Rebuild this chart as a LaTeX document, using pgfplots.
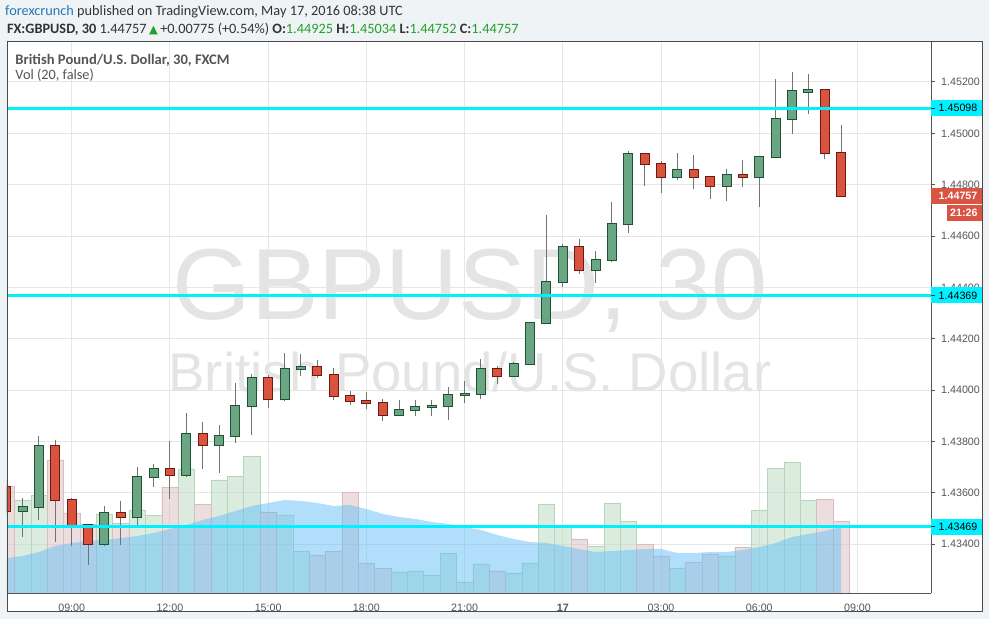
\documentclass[border=0pt]{standalone}
\usepackage{pgfplots}
\pgfplotsset{compat=1.18}
\usepackage{pgfplotstable}
\usepackage{fontspec}
\setmainfont{Liberation Sans}
\newfontfamily\hdr{Carlito}
\newfontfamily\symf{DejaVu Sans}

\definecolor{bgout}{HTML}{F0F3F6}
\definecolor{framec}{HTML}{4A4A4A}
\definecolor{gridc}{HTML}{E6E6E6}
\definecolor{tickc}{HTML}{555555}
\definecolor{upfill}{HTML}{6BA684}
\definecolor{upline}{HTML}{1F5233}
\definecolor{dnfill}{HTML}{D9533F}
\definecolor{dnline}{HTML}{6B1B11}
\definecolor{wick}{HTML}{737373}
\definecolor{vup}{HTML}{B9DBBF}
\definecolor{vupline}{HTML}{B4D7BA}
\definecolor{vdn}{HTML}{DBBFBF}
\definecolor{vdnline}{HTML}{D8BDBD}
\definecolor{maarea}{HTML}{5EBDF8}
\definecolor{lvl}{HTML}{00F0FF}
\definecolor{wm}{HTML}{E4E4E4}
\definecolor{hblue}{HTML}{2278B5}
\definecolor{hgreen}{HTML}{22A12B}
\definecolor{htext}{HTML}{333333}
\definecolor{lastc}{HTML}{DA5443}

% 30-minute candles, i = 0 is 16 May 09:00
\pgfplotstableread{
i o h l c
-3 1.43528 1.43579 1.43427 1.43544
-2 1.43544 1.43822 1.43496 1.43781
2 1.43400 1.43548 1.43394 1.43521
4 1.43505 1.43701 1.43475 1.43661
5 1.43661 1.43713 1.43624 1.43692
7 1.43669 1.43911 1.43662 1.43828
9 1.43785 1.43863 1.43679 1.43820
10 1.43820 1.44029 1.43795 1.43937
11 1.43937 1.44063 1.43827 1.44046
13 1.43964 1.44145 1.43958 1.44081
14 1.44081 1.44141 1.44056 1.44089
20 1.43902 1.43962 1.43902 1.43922
21 1.43922 1.43962 1.43901 1.43933
22 1.43933 1.43962 1.43901 1.43937
23 1.43937 1.44011 1.43885 1.43980
24 1.43980 1.44036 1.43951 1.43985
25 1.43984 1.44120 1.43967 1.44081
27 1.44054 1.44110 1.44051 1.44101
28 1.44101 1.44265 1.44098 1.44260
29 1.44260 1.44681 1.44258 1.44420
30 1.44420 1.44569 1.44403 1.44556
32 1.44467 1.44542 1.44419 1.44506
33 1.44506 1.44733 1.44500 1.44646
34 1.44646 1.44931 1.44613 1.44918
37 1.44829 1.44924 1.44820 1.44856
40 1.44796 1.44861 1.44738 1.44837
42 1.44829 1.44911 1.44714 1.44907
43 1.44907 1.45212 1.44904 1.45055
44 1.45055 1.45239 1.44999 1.45164
45 1.45162 1.45231 1.45077 1.45169
}\upc
\pgfplotstableread{
i o h l c
-4 1.43622 1.43650 1.43514 1.43530
-1 1.43781 1.43806 1.43409 1.43571
0 1.43571 1.43579 1.43394 1.43474
1 1.43474 1.43479 1.43320 1.43400
3 1.43520 1.43568 1.43398 1.43505
6 1.43692 1.43802 1.43577 1.43669
8 1.43828 1.43876 1.43694 1.43785
12 1.44046 1.44058 1.43932 1.43964
15 1.44089 1.44118 1.44047 1.44058
16 1.44058 1.44086 1.43963 1.43976
17 1.43976 1.43997 1.43943 1.43957
18 1.43957 1.43993 1.43928 1.43949
19 1.43949 1.43966 1.43881 1.43902
26 1.44081 1.44094 1.44025 1.44054
31 1.44556 1.44589 1.44454 1.44467
35 1.44918 1.44924 1.44796 1.44880
36 1.44880 1.44892 1.44769 1.44829
38 1.44856 1.44916 1.44785 1.44829
39 1.44829 1.44830 1.44746 1.44797
41 1.44837 1.44896 1.44792 1.44829
46 1.45168 1.45172 1.44901 1.44925
47 1.44925 1.45034 1.44752 1.44757
}\dnc
% volume (arbitrary units)
\pgfplotstableread{
i v
-3 93
-2 98
2 79
4 83
5 78
7 124
9 113
10 117
11 137
13 78
14 42
20 21
21 22
22 18
23 40
24 11
25 29
27 20
28 30
29 89
30 66
32 47
33 90
34 72
37 25
40 37
42 83
43 125
44 131
45 93
}\volup
\pgfplotstableread{
i v
-4 107
-1 133
0 80
1 69
3 70
6 106
8 89
12 81
15 38
16 42
17 101
18 30
19 25
26 22
31 54
35 49
36 37
38 31
39 39
41 46
46 94
47 72
}\voldn
\pgfplotstableread{
i ma
-4 35
-3 37
-2 41
-1 47
0 50
1 52
2 53
3 55
4 57
5 60
6 64
7 68
8 73
9 77
10 82
11 87
12 90
13 93
14 92
15 90
16 87
17 88
18 84
19 79
20 76
21 74
22 71
23 69
24 66
25 63
26 58
27 54
28 51
29 50
30 47
31 44
32 41
33 42
34 43
35 44
36 44
37 40
38 40
39 41
40 41
41 43
42 46
43 50
44 56
45 59
46 62
47 66
}\vma

\pgfplotsset{
  pane/.style={at={(7pt,26pt)}, anchor=south west, scale only axis,
    width=924pt, height=551pt, xmin=-3.952, xmax=52.49},
  pricey/.style={ymin=1.4321038, ymax=1.4535575},
}
\newcommand\tk{\fontsize{10.7}{12}\selectfont}
\newcommand\hd{\hdr\fontsize{14.3}{16}\selectfont}

\begin{document}
\begin{tikzpicture}[x=1pt,y=1pt]
\fill[bgout] (0,0) rectangle (989,619);
\fill[white] (7,7) rectangle (982,577);

% header
\node[anchor=base west, inner sep=0, text=htext] at (5,603)
  {\hd\textcolor{hblue}{forexcrunch} published on TradingView.com, May 17, 2016 08:38 UTC};
\node[anchor=base west, inner sep=0, text=htext] at (7,585.5)
  {\hd\textbf{FX:GBPUSD, 30}\ 1.44757\,\textcolor{hgreen}{\symf\fontsize{11.5}{12}\selectfont ▲}\,+0.00775 (+0.54\%)\ \textbf{O:}\textcolor{hgreen}{1.44925}\ \textbf{H:}\textcolor{hgreen}{1.45034}\ \textbf{L:}\textcolor{hgreen}{1.44752}\ \textbf{C:}\textcolor{hgreen}{1.44757}};

% price pane: grid, axes, ticks
\begin{axis}[pane, pricey,
  axis x line*=bottom, axis y line*=right,
  axis line style={draw=tickc, line width=1pt},
  xtick={0,6,12,18,24,30,36,42,48},
  xticklabels={09:00,12:00,15:00,18:00,21:00,\textbf{17},03:00,06:00,09:00},
  ytick={1.434,1.436,1.438,1.440,1.442,1.444,1.446,1.448,1.450,1.452},
  grid=major, major grid style={draw=gridc, line width=1pt},
  tick align=outside, major tick length=4pt,
  xtick style={draw=none}, ytick style={draw=tickc, line width=1pt},
  /pgf/number format/.cd, fixed, fixed zerofill, precision=5, assume math mode=true, /pgfplots/.cd,
  xticklabel style={font=\tk, text=tickc, anchor=north, inner sep=0pt, yshift=-7pt},
  yticklabel style={font=\tk, text=tickc, anchor=west, inner sep=0pt, xshift=6pt},
]
\end{axis}

% watermark and pane legend
\node[anchor=base, inner sep=0, text=wm] at (470,299) {\fontsize{101}{110}\selectfont GBPUSD, 30};
\node[anchor=base, inner sep=0, text=wm] at (470,227) {\fontsize{54.5}{60}\selectfont British Pound/U.S. Dollar};
\node[anchor=base west, inner sep=0, text=tickc] at (15.3,554) {\hdr\fontsize{14.6}{16}\selectfont\textbf{British Pound/U.S. Dollar, 30, FXCM}};
\node[anchor=base west, inner sep=0, text=tickc] at (15.3,539.5) {\hdr\fontsize{14.3}{16}\selectfont Vol (20, false)};

% volume pane
\begin{axis}[pane, ymin=0, ymax=551, hide axis]
\addplot[ybar, bar width=1, /pgf/bar shift=0pt, fill=vup, fill opacity=0.5, draw=vupline] table[x=i, y=v] {\volup};
\addplot[ybar, bar width=1, /pgf/bar shift=0pt, fill=vdn, fill opacity=0.5, draw=vdnline] table[x=i, y=v] {\voldn};
\addplot[fill=maarea, fill opacity=0.48, draw=none] table[x=i, y=ma] {\vma} \closedcycle;
\end{axis}

% candles and levels
\begin{axis}[pane, pricey, hide axis]
\addplot[draw=none, error bars/.cd, y dir=plus, y explicit, error mark=none,
  error bar style={draw=wick, line width=1pt}]
  table[x=i, y=l, y error expr=\thisrow{h}-\thisrow{l}] {\upc};
\addplot[draw=none, error bars/.cd, y dir=plus, y explicit, error mark=none,
  error bar style={draw=wick, line width=1pt}]
  table[x=i, y=l, y error expr=\thisrow{h}-\thisrow{l}] {\dnc};
\addplot[draw=none, error bars/.cd, y dir=plus, y explicit, error mark=none,
  error bar style={draw=upline, line width=10pt, shorten <=-1pt, shorten >=-1pt}]
  table[x=i, y=o, y error expr=\thisrow{c}-\thisrow{o}] {\upc};
\addplot[draw=none, error bars/.cd, y dir=plus, y explicit, error mark=none,
  error bar style={draw=upfill, line width=8pt}]
  table[x=i, y=o, y error expr=\thisrow{c}-\thisrow{o}] {\upc};
\addplot[draw=none, error bars/.cd, y dir=plus, y explicit, error mark=none,
  error bar style={draw=dnline, line width=10pt, shorten <=-1pt, shorten >=-1pt}]
  table[x=i, y=c, y error expr=\thisrow{o}-\thisrow{c}] {\dnc};
\addplot[draw=none, error bars/.cd, y dir=plus, y explicit, error mark=none,
  error bar style={draw=dnfill, line width=8pt}]
  table[x=i, y=c, y error expr=\thisrow{o}-\thisrow{c}] {\dnc};
\addplot[lvl, line width=3pt] coordinates {(-3.952,1.45098) (52.49,1.45098)};
\addplot[lvl, line width=3pt] coordinates {(-3.952,1.44369) (52.49,1.44369)};
\addplot[lvl, line width=3pt] coordinates {(-3.952,1.43469) (52.49,1.43469)};
\coordinate (L1) at (axis cs:52.49,1.45098);
\coordinate (L2) at (axis cs:52.49,1.44369);
\coordinate (L3) at (axis cs:52.49,1.43469);
\coordinate (LP) at (axis cs:52.49,1.44757);
\end{axis}

% right scale labels
\foreach \c/\t in {L1/1.45098, L2/1.44369, L3/1.43469}{
  \fill[lvl] ([yshift=-8pt]\c) rectangle ++(51,16);
  \draw[htext, line width=1pt] (\c) -- ++(4,0);
  \node[anchor=west, inner sep=0, xshift=7.5pt, font=\tk] at (\c) {\t};
}
\fill[lastc] ([yshift=-8pt]LP) rectangle ++(51,16);
\node[anchor=west, inner sep=0, xshift=7.5pt, font=\tk\bfseries, text=white] at (LP) {1.44757};
\fill[lastc] ([xshift=16pt, yshift=-25.5pt]LP) rectangle ++(35,16);
\node[anchor=west, inner sep=0, xshift=19pt, yshift=-17.5pt, font=\tk\bfseries, text=white] at (LP) {21:26};

\draw[framec, line width=1pt] (7,7) rectangle (982,577);
\end{tikzpicture}
\end{document}
